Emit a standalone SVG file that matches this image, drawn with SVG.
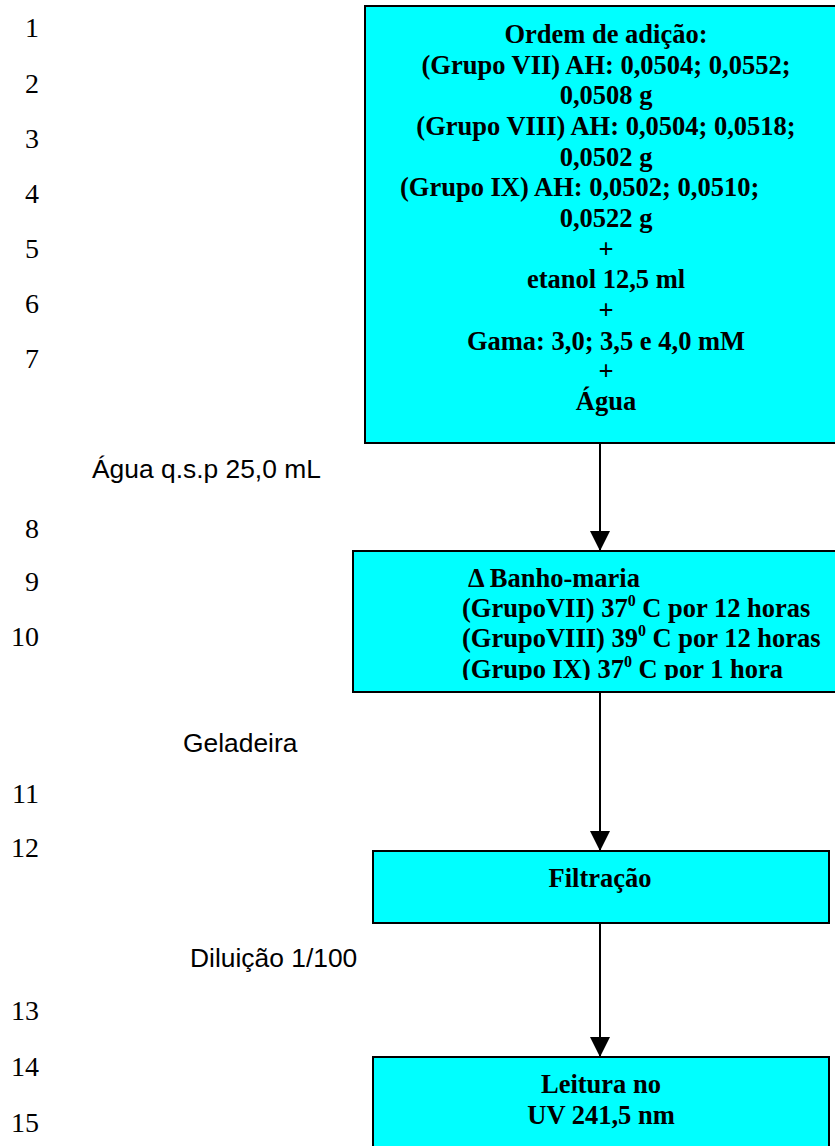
<svg xmlns="http://www.w3.org/2000/svg" width="835" height="1146" viewBox="0 0 835 1146">
  <style>
    .box { fill: #00FFFF; stroke: #000; stroke-width: 2; }
    .bt { font-family: "Liberation Serif", "Times New Roman", serif; font-weight: bold; font-size: 26.5px; fill: #000; }
    .num { font-family: "Liberation Serif", "Times New Roman", serif; font-size: 28px; fill: #000; text-anchor: end; }
    .lbl { font-family: "Liberation Sans", Arial, sans-serif; font-size: 26.4px; fill: #000; }
    .mid { text-anchor: middle; }
    .wire { stroke: #000; stroke-width: 2; fill: none; marker-end: url(#head); }
  </style>
  <defs>
    <marker id="head" viewBox="0 0 20 20" refX="20" refY="10" markerWidth="20" markerHeight="20" markerUnits="userSpaceOnUse" orient="auto">
      <path d="M0,0 L20,10 L0,20 Z" fill="#000"/>
    </marker>
    <clipPath id="clip-bath">
      <rect x="353" y="552" width="482" height="128"/>
    </clipPath>
  </defs>
  <rect width="835" height="1146" fill="#fff"/>

  <!-- line numbers -->
  <g id="line-numbers">
    <text class="num" x="39" y="37">1</text>
    <text class="num" x="39" y="93">2</text>
    <text class="num" x="39" y="148">3</text>
    <text class="num" x="39" y="203">4</text>
    <text class="num" x="39" y="258">5</text>
    <text class="num" x="39" y="313">6</text>
    <text class="num" x="39" y="368">7</text>
    <text class="num" x="39" y="538">8</text>
    <text class="num" x="39" y="591">9</text>
    <text class="num" x="39" y="646">10</text>
    <text class="num" x="39" y="803">11</text>
    <text class="num" x="39" y="857">12</text>
    <text class="num" x="39" y="1020">13</text>
    <text class="num" x="39" y="1076">14</text>
    <text class="num" x="39" y="1132">15</text>
  </g>

  <!-- step labels beside the arrows -->
  <g id="labels">
    <text class="lbl" x="92" y="478">Água q.s.p 25,0 mL</text>
    <text class="lbl" x="183" y="752">Geladeira</text>
    <text class="lbl" x="190" y="967">Diluição 1/100</text>
  </g>

  <!-- connectors -->
  <g id="connectors">
    <line class="wire" x1="600" y1="443" x2="600" y2="551"/>
    <line class="wire" x1="600" y1="692" x2="600" y2="851"/>
    <line class="wire" x1="600" y1="923" x2="600" y2="1057"/>
  </g>

  <!-- step 1: order of addition -->
  <g id="node-adicao">
    <rect class="box" x="365" y="6" width="480" height="437"/>
    <text class="bt mid" x="606" y="43">Ordem de adição:</text>
    <text class="bt mid" x="606" y="74">(Grupo VII) AH: 0,0504; 0,0552;</text>
    <text class="bt mid" x="606" y="104">0,0508 g</text>
    <text class="bt mid" x="606" y="135">(Grupo VIII) AH: 0,0504; 0,0518;</text>
    <text class="bt mid" x="606" y="166">0,0502 g</text>
    <text class="bt" x="400" y="196">(Grupo IX) AH: 0,0502; 0,0510;</text>
    <text class="bt mid" x="606" y="227">0,0522 g</text>
    <text class="bt mid" x="606" y="258">+</text>
    <text class="bt mid" x="606" y="288">etanol 12,5 ml</text>
    <text class="bt mid" x="606" y="319">+</text>
    <text class="bt mid" x="606" y="350">Gama: 3,0; 3,5 e 4,0 mM</text>
    <text class="bt mid" x="606" y="380">+</text>
    <text class="bt mid" x="606" y="410">Água</text>
  </g>

  <!-- step 2: water bath -->
  <g id="node-banho">
    <rect class="box" x="353" y="551" width="492" height="141"/>
    <g clip-path="url(#clip-bath)">
      <text class="bt" x="468" y="587">Δ Banho-maria</text>
      <text class="bt" x="462" y="617">(GrupoVII) 37<tspan font-size="16" dy="-11">0</tspan><tspan dy="11"> C por 12 horas</tspan></text>
      <text class="bt" x="462" y="647">(GrupoVIII) 39<tspan font-size="16" dy="-11">0</tspan><tspan dy="11"> C por 12 horas</tspan></text>
      <text class="bt" x="462" y="678">(Grupo IX) 37<tspan font-size="16" dy="-11">0</tspan><tspan dy="11"> C por 1 hora</tspan></text>
    </g>
  </g>

  <!-- step 3: filtration -->
  <g id="node-filtracao">
    <rect class="box" x="373" y="851" width="456" height="72"/>
    <text class="bt mid" x="600" y="887">Filtração</text>
  </g>

  <!-- step 4: UV reading -->
  <g id="node-leitura">
    <rect class="box" x="373" y="1057" width="456" height="100"/>
    <text class="bt mid" x="601" y="1093">Leitura no</text>
    <text class="bt mid" x="601" y="1124">UV 241,5 nm</text>
  </g>
</svg>
